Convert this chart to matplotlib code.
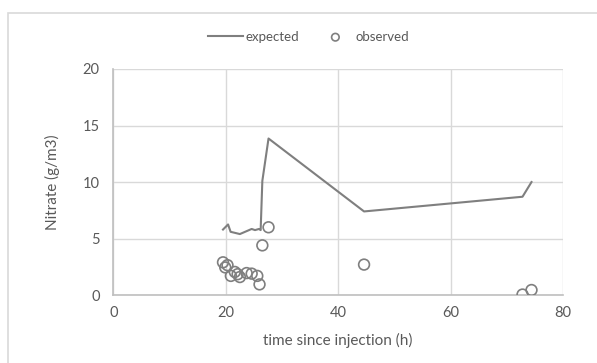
import matplotlib.pyplot as plt
from matplotlib.patches import Rectangle

# expected nitrate curve
exp_t = [19.5, 20.4, 20.85, 22.5, 24.6, 25.2, 25.9, 26.2, 26.5, 27.6, 44.6, 72.8, 74.4]
exp_no3 = [5.8, 6.25, 5.6, 5.4, 5.85, 5.75, 5.85, 5.75, 10.1, 13.85, 7.4, 8.7, 10.0]

# observed samples
obs_t = [19.5, 20.3, 19.9, 20.9, 21.6, 22.1, 22.5, 23.7, 24.6, 25.6, 26.0,
         26.5, 27.6, 44.6, 72.8, 74.4]
obs_no3 = [2.9, 2.65, 2.45, 1.7, 2.05, 1.85, 1.6, 1.95, 1.9, 1.7, 0.95,
           4.4, 6.0, 2.7, 0.05, 0.45]

xticks = [0, 20, 40, 60, 80]
yticks = [0, 5, 10, 15, 20]

plt.rcParams['font.family'] = ['Lato', 'DejaVu Sans']
txt = '#595959'
grey = '#7f7f7f'

fig = plt.figure(figsize=(5.97, 3.63), dpi=100)
# chart-area frame (runs off the right and bottom edges)
fig.patches.append(Rectangle((0.0134, -0.1), 1.1, 1.065, transform=fig.transFigure,
                             fill=False, edgecolor='#d9d9d9', linewidth=1.2))
ax = fig.add_axes([0.19, 0.187, 0.753, 0.623])

ax.plot(exp_t, exp_no3, color=grey, linewidth=1.5, label='expected', zorder=3)
ax.scatter(obs_t, obs_no3, s=60, facecolors='none', edgecolors=grey,
           linewidths=1.2, label='observed', zorder=4)

ax.set_xlim(0, 80)
ax.set_ylim(0, 20)
ax.set_xticks(xticks)
ax.set_yticks(yticks)
ax.grid(True, color='#d9d9d9', linewidth=1)
ax.set_axisbelow(True)
for side in ['top', 'right']:
    ax.spines[side].set_visible(False)
for side in ['left', 'bottom']:
    ax.spines[side].set_color('#bfbfbf')
    ax.spines[side].set_linewidth(1.2)
ax.tick_params(length=0, labelsize=10.5, colors=txt)
ax.tick_params(axis='x', pad=8)
ax.tick_params(axis='y', pad=10)

ax.set_xlabel('time since injection (h)', fontsize=11, color=txt, va='center')
ax.set_ylabel('Nitrate (g/m3)', fontsize=11, color=txt, va='center')
ax.xaxis.set_label_coords(0.5, -0.199)
ax.yaxis.set_label_coords(-0.136, 0.5)

leg = fig.legend(loc='center', bbox_to_anchor=(0.517, 0.899), ncol=2, frameon=False,
                 fontsize=9.5, handlelength=2.65, columnspacing=1.4,
                 handletextpad=0.2, markerscale=0.7)
for t in leg.get_texts():
    t.set_color(txt)

fig.savefig('out.png', dpi=100)
